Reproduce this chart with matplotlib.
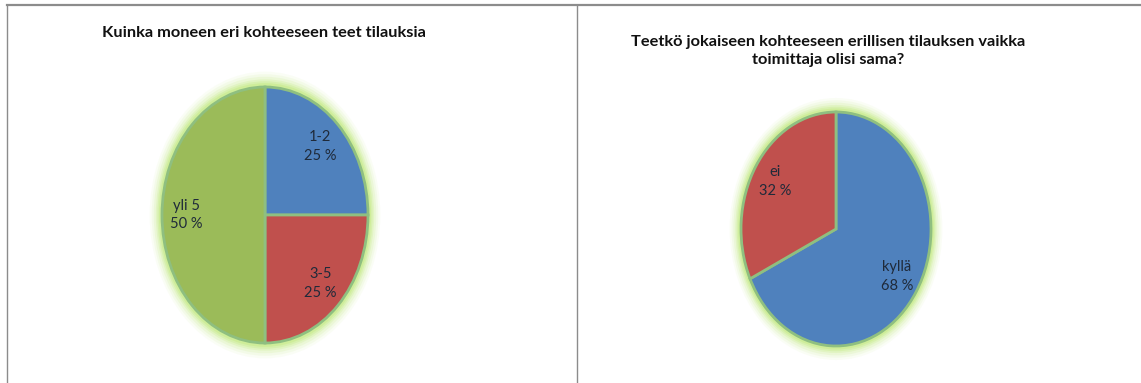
import matplotlib
matplotlib.use("Agg")
import matplotlib.pyplot as plt
from matplotlib.patches import Ellipse
from matplotlib.lines import Line2D

plt.rcParams['font.family'] = ['Lato', 'DejaVu Sans']

# Data
left_title = "Kuinka moneen eri kohteeseen teet tilauksia"
left_labels = ["1-2", "3-5", "yli 5"]
left_values = [25, 25, 50]
left_colors = ["#4F81BD", "#C0504D", "#9BBB59"]

right_title = "Teetkö jokaiseen kohteeseen erillisen tilauksen vaikka\ntoimittaja olisi sama?"
right_labels = ["kyllä", "ei"]
right_values = [68, 32]
right_colors = ["#4F81BD", "#C0504D"]

W, H = 1141, 383
fig = plt.figure(figsize=(W / 100, H / 100), dpi=100)
fig.patch.set_facecolor("white")


def px(x, y):
    return x / W, 1 - y / H


border_col = "#8c8c8c"
for (x0, y0, x1, y1, lw) in [(7, 5, 1141, 5, 1.6), (7, 5, 7, 383, 1.0), (577, 5, 577, 383, 1.0)]:
    a, b = px(x0, y0)
    c, d = px(x1, y1)
    fig.add_artist(Line2D([a, c], [b, d], color=border_col, lw=lw, transform=fig.transFigure))


def draw_pie(cx, cy, rx, ry, values, labels, colors):
    m = 1.25
    w, h = 2 * m * rx, 2 * m * ry
    ax = fig.add_axes([(cx - m * rx) / W, 1 - (cy + m * ry) / H, w / W, h / H])
    for s, al in [(1.12, 0.08), (1.10, 0.12), (1.08, 0.18), (1.06, 0.26), (1.045, 0.38), (1.03, 0.6)]:
        ax.add_patch(Ellipse((0, 0), 2 * s, 2 * s, facecolor="#c8ec8c", edgecolor="none", alpha=al, zorder=0))
    total = sum(values)
    texts = [f"{l}\n{round(v * 100 / total)} %" for l, v in zip(labels, values)]
    wedges, tl = ax.pie(values, labels=texts, colors=colors, startangle=90, counterclock=False,
                        labeldistance=0.76, radius=1.0, frame=True,
                        wedgeprops=dict(edgecolor="#8fbf80", linewidth=2.0),
                        textprops=dict(fontsize=10.5, color="#1f2a3a", ha="center", va="center",
                                       linespacing=1.45))
    for t in tl:
        t.set_ha("center")
        t.set_multialignment("center")
    ax.set_xlim(-m, m)
    ax.set_ylim(-m, m)
    ax.set_aspect("auto")
    ax.axis("off")
    return ax


draw_pie(265, 215, 103, 128, left_values, left_labels, left_colors)
draw_pie(836, 229, 95, 117, right_values, right_labels, right_colors)

x, y = px(264, 33)
fig.text(x, y, left_title, ha="center", va="center", fontsize=11.8, fontweight="bold", color="#111111")
x, y = px(828, 51)
fig.text(x, y, right_title, ha="center", va="center", fontsize=11.8, fontweight="bold", color="#111111",
         linespacing=1.45)

fig.savefig("out.png", dpi=100, facecolor="white")
